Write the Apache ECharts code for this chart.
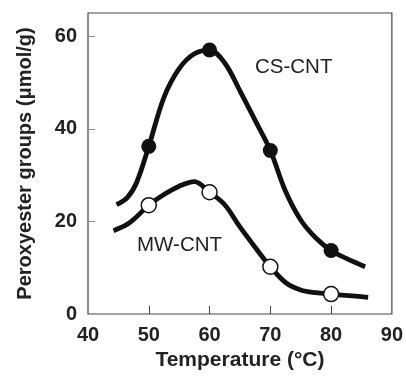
<!DOCTYPE html>
<html>
<head>
<meta charset="utf-8">
<script src="https://cdn.jsdelivr.net/npm/echarts@6/dist/echarts.min.js"></script>
<style>
  html, body { margin: 0; padding: 0; background: #fff; }
  #chart { width: 406px; height: 376px; }
</style>
</head>
<body>
<div id="chart"></div>
<script>
// measured points (markers)
var tempsMarked = [50, 60, 70, 80];
var csMarked = [36.2, 57.0, 35.3, 13.7];
var mwMarked = [23.5, 26.3, 10.2, 4.3];

// fitted curves
var csCurveT = [44.7, 46.5, 48, 50, 52.5, 55, 57.5, 60, 62.5, 65, 67.5, 70, 72.5, 75, 77.5, 80, 82.5, 85.6];
var csCurveV = [23.6, 25.2, 28.4, 36.2, 46.8, 53.0, 56.2, 57.0, 54.2, 48.2, 41.8, 35.3, 26.5, 20.3, 16.4, 13.7, 12.0, 10.2];
var mwCurveT = [44.2, 46.5, 48, 50, 52.5, 55, 57.5, 60, 62.5, 65, 67.5, 70, 72.5, 75, 77.5, 80, 83.5, 86.1];
var mwCurveV = [18.0, 19.4, 21.0, 23.5, 25.8, 27.6, 28.6, 26.3, 23.6, 18.8, 14.4, 10.2, 6.8, 5.2, 4.6, 4.3, 3.9, 3.6];

var xTicks = [40, 50, 60, 70, 80, 90];
var yTicks = [0, 20, 40, 60];

function pairs(xs, ys) {
    var list = [];
    for (var i = 0; i < xs.length; i++) {
        list.push([xs[i], ys[i]]);
    }
    return list;
}

var font = 'Liberation Sans, Arial, sans-serif';
var chart = echarts.init(document.getElementById('chart'));
chart.setOption({
    animation: false,
    grid: {
        left: 88, right: 14, top: 13, bottom: 62,
        show: true, borderColor: '#444', borderWidth: 1.2
    },
    xAxis: {
        type: 'value', min: 40, max: 90, interval: 10,
        name: 'Temperature (°C)', nameLocation: 'middle', nameGap: 33,
        nameTextStyle: { fontFamily: font, fontWeight: 'bold', fontSize: 21, color: '#222' },
        axisLine: { show: false },
        axisTick: { show: true, inside: true, length: 8, lineStyle: { color: '#444' }, customValues: [50, 60, 70, 80] },
        axisLabel: { margin: 11, fontFamily: font, fontWeight: 'bold', fontSize: 20, color: '#222', customValues: xTicks },
        splitLine: { show: false }
    },
    yAxis: {
        type: 'value', min: 0, max: 65, interval: 20,
        name: 'Peroxyester groups (μmol/g)', nameLocation: 'middle', nameGap: 53,
        nameTextStyle: { fontFamily: font, fontWeight: 'bold', fontSize: 20, color: '#222' },
        axisLine: { show: false },
        axisTick: { show: true, inside: true, length: 7, lineStyle: { color: '#888' }, customValues: [20, 40, 60] },
        axisLabel: { margin: 11, fontFamily: font, fontWeight: 'bold', fontSize: 20, color: '#222', customValues: yTicks },
        splitLine: { show: false }
    },
    graphic: [
        { type: 'text', left: 255, top: 57, style: { text: 'CS-CNT', font: '20.5px ' + font, fill: '#222' } },
        { type: 'text', left: 137, top: 235, style: { text: 'MW-CNT', font: '20.5px ' + font, fill: '#222' } }
    ],
    series: [
        {
            name: 'CS-CNT curve', type: 'line', smooth: 0.35, showSymbol: false,
            lineStyle: { color: '#111', width: 4.8 },
            data: pairs(csCurveT, csCurveV), z: 2
        },
        {
            name: 'MW-CNT curve', type: 'line', smooth: 0.35, showSymbol: false,
            lineStyle: { color: '#111', width: 4.8 },
            data: pairs(mwCurveT, mwCurveV), z: 2
        },
        {
            name: 'CS-CNT', type: 'scatter', symbol: 'circle', symbolSize: 15,
            itemStyle: { color: '#111', opacity: 1 },
            data: pairs(tempsMarked, csMarked), z: 3
        },
        {
            name: 'MW-CNT', type: 'scatter', symbol: 'circle', symbolSize: 15,
            itemStyle: { color: '#fff', borderColor: '#111', borderWidth: 1.5, opacity: 1 },
            data: pairs(tempsMarked, mwMarked), z: 3
        }
    ]
});
</script>
</body>
</html>
